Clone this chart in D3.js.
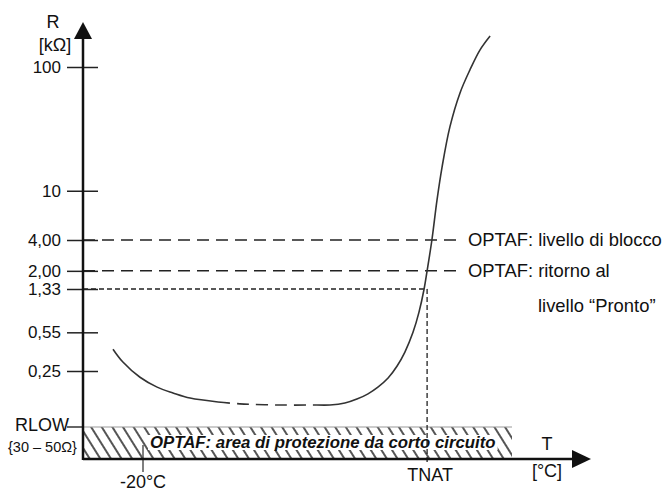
<!DOCTYPE html>
<html>
<head>
	<title>OPTAF - R(T)</title>
	<script src="https://d3js.org/d3.v7.min.js"></script>
	<style>
		body { margin: 0; background: #fff; }
		text { font-family: "Liberation Sans", Arial, sans-serif; fill: #111; }
	</style>
</head>
<body>
<section id="container">
</section>
</body>
<script>
//Data
var rTicks = [100, 10, 4, 2, 1.33, 0.55, 0.25];
var rTickLabels = ["100", "10", "4,00", "2,00", "1,33", "0,55", "0,25"];
var levelValues = [4, 2];
var levelLabels = ["OPTAF: livello di blocco", "OPTAF: ritorno al"];
var readyValue = 1.33;
var tLow = -20;
var tNat = 74.7;
//Resistance curve, T in °C, R in kOhm
var curveT = [-30, -26.7, -21, -15.3, -10, -4.3, 5, 12.3, 25.7, 38, 42.3, 47.3, 51.3, 55, 58.3, 61.7, 64.7, 67.3, 70, 72, 73.7, 74.7, 76.3, 78, 79.7, 82.3, 85.7, 89, 92.3, 95.7];
var curveR = [0.39, 0.30, 0.22, 0.18, 0.16, 0.144, 0.133, 0.128, 0.125, 0.125, 0.125, 0.130, 0.141, 0.157, 0.18, 0.217, 0.277, 0.368, 0.55, 0.83, 1.33, 2.0, 4.0, 8.4, 15.6, 32.8, 62, 95, 137, 178];
//part of the curve drawn dashed
var dashFrom = 5, dashTo = 38;

var svg = d3.select("#container")
	.append("svg")
	.attr("width", 664)
	.attr("height", 493);

//Layout
var x0 = 83, axisY = 459, bandTop = 427, bandRight = 512;

var x = d3.scaleLinear()
	.domain([-40, 130])
	.range([x0, 593]);

//Schematic log scale, piecewise so the labelled levels sit where they are drawn
var y = d3.scaleLog()
	.domain([0.25, 1.33, 4, 100])
	.range([371, 289, 240, 67]);

var defs = svg.append("defs");

//Hatch for the short circuit band
var hatch = defs.append("pattern")
	.attr("id", "hatch")
	.attr("patternUnits", "userSpaceOnUse")
	.attr("width", 9)
	.attr("height", 9)
	.attr("patternTransform", "rotate(-32)");
hatch.append("line")
	.attr("x1", 4).attr("y1", 0)
	.attr("x2", 4).attr("y2", 9)
	.attr("stroke", "#2a2a2a")
	.attr("stroke-width", 1.6);

//Short circuit band
svg.append("rect")
	.attr("x", x0)
	.attr("y", bandTop)
	.attr("width", bandRight - x0)
	.attr("height", axisY - bandTop)
	.attr("fill", "url(#hatch)");

svg.append("line")
	.attr("x1", x0).attr("x2", bandRight)
	.attr("y1", bandTop).attr("y2", bandTop)
	.attr("stroke", "#999")
	.attr("stroke-width", 1);

var bandText = svg.append("text")
	.attr("x", 150)
	.attr("y", 448)
	.style("font-size", "16.8px")
	.style("font-weight", "bold")
	.style("font-style", "italic")
	.text("OPTAF: area di protezione da corto circuito");

var bb = bandText.node().getBBox();
svg.insert("rect", "text")
	.attr("x", bb.x - 2)
	.attr("y", bb.y + 2)
	.attr("width", bb.width + 4)
	.attr("height", bb.height - 4)
	.attr("fill", "#fff");

//RLOW
svg.append("line")
	.attr("x1", 67).attr("x2", x0)
	.attr("y1", bandTop).attr("y2", bandTop)
	.attr("stroke", "#333")
	.attr("stroke-width", 1.5);
svg.append("text")
	.attr("x", 15)
	.attr("y", 431)
	.style("font-size", "18px")
	.text("RLOW");
svg.append("text")
	.attr("x", 8)
	.attr("y", 452)
	.style("font-size", "14.5px")
	.text("{30 \u2013 50\u03A9}");

//Dashed levels
svg.selectAll(".level")
	.data(levelValues)
	.enter().append("line")
	.attr("class", "level")
	.attr("x1", x0).attr("x2", 462)
	.attr("y1", d => y(d)).attr("y2", d => y(d))
	.attr("stroke", "#222")
	.attr("stroke-width", 1.5)
	.attr("stroke-dasharray", "12,7");

svg.selectAll(".levelLabel")
	.data(levelValues)
	.enter().append("text")
	.attr("class", "levelLabel")
	.attr("x", 468)
	.attr("y", d => y(d) + 6)
	.style("font-size", "18.4px")
	.text((d, i) => levelLabels[i]);

svg.append("text")
	.attr("x", 538)
	.attr("y", 312)
	.style("font-size", "18.4px")
	.text("livello \u201CPronto\u201D");

//Ready level and TNAT
svg.append("line")
	.attr("x1", x0).attr("x2", x(tNat))
	.attr("y1", y(readyValue)).attr("y2", y(readyValue))
	.attr("stroke", "#222")
	.attr("stroke-width", 1.3)
	.attr("stroke-dasharray", "5,3");
svg.append("line")
	.attr("x1", x(tNat)).attr("x2", x(tNat))
	.attr("y1", y(readyValue)).attr("y2", 464)
	.attr("stroke", "#222")
	.attr("stroke-width", 1.3)
	.attr("stroke-dasharray", "5,3");

//-20°C mark
svg.append("line")
	.attr("x1", x(tLow)).attr("x2", x(tLow))
	.attr("y1", 445).attr("y2", 472)
	.attr("stroke", "#555")
	.attr("stroke-width", 1.5);

//Curve
var pts = curveT.map((t, i) => [t, curveR[i]]);
var line = d3.line()
	.x(d => x(d[0]))
	.y(d => y(d[1]))
	.curve(d3.curveCatmullRom.alpha(0.5));

var parts = [
	{ d: pts.filter(p => p[0] <= dashFrom), dash: null },
	{ d: pts.filter(p => p[0] >= dashFrom && p[0] <= dashTo), dash: "12,7" },
	{ d: pts.filter(p => p[0] >= dashTo), dash: null }
];
svg.selectAll(".curve")
	.data(parts)
	.enter().append("path")
	.attr("class", "curve")
	.attr("d", p => line(p.d))
	.attr("fill", "none")
	.attr("stroke", "#333")
	.attr("stroke-width", 1.6)
	.attr("stroke-dasharray", p => p.dash);

//Y axis with ticks crossing the line
var yAxis = svg.append("g")
	.attr("transform", "translate(" + x0 + ",0)")
	.call(d3.axisLeft(y)
		.tickValues(rTicks)
		.tickFormat((d, i) => rTickLabels[i])
		.tickSize(16)
		.tickPadding(6));
yAxis.select(".domain").remove();
yAxis.selectAll(".tick line")
	.attr("x1", 15)
	.attr("stroke", "#222")
	.attr("stroke-width", 1.5);
yAxis.selectAll(".tick text")
	.style("font-size", "17px")
	.style("font-family", "\"Liberation Sans\", Arial, sans-serif")
	.attr("fill", "#444");

//Axis lines and arrows
svg.append("line")
	.attr("x1", x0).attr("x2", x0)
	.attr("y1", axisY + 1).attr("y2", 36)
	.attr("stroke", "#111")
	.attr("stroke-width", 2.5);
svg.append("path")
	.attr("d", "M" + x0 + ",22 L" + (x0 - 9) + ",39 L" + (x0 + 9) + ",39 Z")
	.attr("fill", "#111");

svg.append("line")
	.attr("x1", x0).attr("x2", 574)
	.attr("y1", axisY).attr("y2", axisY)
	.attr("stroke", "#111")
	.attr("stroke-width", 2.5);
svg.append("path")
	.attr("d", "M591," + axisY + " L572," + (axisY - 9) + " L572," + (axisY + 9) + " Z")
	.attr("fill", "#111");

//Axis titles
svg.append("text")
	.attr("x", 53).attr("y", 28)
	.attr("text-anchor", "middle")
	.style("font-size", "18px")
	.text("R");
svg.append("text")
	.attr("x", 55).attr("y", 51)
	.attr("text-anchor", "middle")
	.style("font-size", "18px")
	.text("[k\u03A9]");
svg.append("text")
	.attr("x", 547).attr("y", 450)
	.attr("text-anchor", "middle")
	.style("font-size", "18px")
	.text("T");
svg.append("text")
	.attr("x", 547).attr("y", 477)
	.attr("text-anchor", "middle")
	.style("font-size", "18px")
	.text("[\u00B0C]");

//X labels
svg.append("text")
	.attr("x", x(tLow)).attr("y", 488)
	.attr("text-anchor", "middle")
	.style("font-size", "18px")
	.text("-20\u00B0C");
svg.append("text")
	.attr("x", x(tNat) + 3).attr("y", 481)
	.attr("text-anchor", "middle")
	.style("font-size", "18px")
	.text("TNAT");
</script>
</html>
